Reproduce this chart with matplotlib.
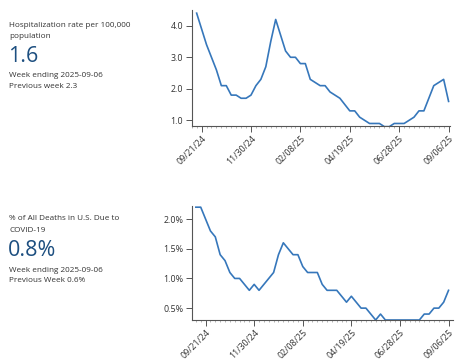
import pandas as pd
import matplotlib
matplotlib.use("Agg")
import matplotlib.pyplot as plt
import matplotlib.dates as mdates
from matplotlib.ticker import FuncFormatter

# weekly hospitalization rate per 100,000 (week ending 09/14/24 .. 09/06/25)
hosp_dates = pd.date_range("2024-09-14", "2025-09-06", freq="7D")
hosp_rate = [4.4, 3.9, 3.4, 3.0, 2.6, 2.1, 2.1, 1.8, 1.8, 1.7,
             1.7, 1.8, 2.1, 2.3, 2.7, 3.5, 4.2, 3.7, 3.2, 3.0,
             3.0, 2.8, 2.8, 2.3, 2.2, 2.1, 2.1, 1.9, 1.8, 1.7,
             1.5, 1.3, 1.3, 1.1, 1.0, 0.9, 0.9, 0.9, 0.8, 0.8,
             0.9, 0.9, 0.9, 1.0, 1.1, 1.3, 1.3, 1.7, 2.1, 2.2,
             2.3, 1.6]

# weekly % of all deaths due to COVID-19 (week ending 09/07/24 .. 09/06/25)
death_dates = pd.date_range("2024-09-07", "2025-09-06", freq="7D")
death_pct = [2.2, 2.2, 2.0, 1.8, 1.7, 1.4, 1.3, 1.1, 1.0, 1.0,
             0.9, 0.8, 0.9, 0.8, 0.9, 1.0, 1.1, 1.4, 1.6, 1.5,
             1.4, 1.4, 1.2, 1.1, 1.1, 1.1, 0.9, 0.8, 0.8, 0.8,
             0.7, 0.6, 0.7, 0.6, 0.5, 0.5, 0.4, 0.3, 0.4, 0.3,
             0.3, 0.3, 0.3, 0.3, 0.3, 0.3, 0.3, 0.4, 0.4, 0.5,
             0.5, 0.6, 0.8]

tick_dates = pd.to_datetime(["2024-09-21", "2024-11-30", "2025-02-08",
                             "2025-04-19", "2025-06-28", "2025-09-06"])

plt.rcParams["font.family"] = ["Open Sans", "DejaVu Sans"]

W, H = 466, 364
fig = plt.figure(figsize=(W / 100, H / 100), dpi=100)

line_color = "#3677bb"
text_color = "#333333"
big_color = "#1d4f80"
axis_color = "#555555"


def px_axes(left, top, right, bottom):
    return fig.add_axes([left / W, 1 - bottom / H, (right - left) / W, (bottom - top) / H])


def style(ax):
    for s in ["top", "right"]:
        ax.spines[s].set_visible(False)
    for s in ["left", "bottom"]:
        ax.spines[s].set_color(axis_color)
        ax.spines[s].set_linewidth(0.8)
    ax.set_xticks(tick_dates)
    ax.xaxis.set_major_formatter(mdates.DateFormatter("%m/%d/%y"))
    ax.xaxis.set_minor_locator(mdates.WeekdayLocator(byweekday=mdates.SA))
    ax.tick_params(axis="x", which="major", length=4, width=0.7, color=axis_color,
                   labelsize=6.4, labelcolor=text_color, pad=1.5)
    ax.tick_params(axis="x", which="minor", length=1.5, width=0.5, color="#999999")
    ax.tick_params(axis="y", length=4, width=0.7, color=axis_color,
                   labelsize=6.4, labelcolor=text_color, pad=2)
    for lab in ax.get_xticklabels():
        lab.set_rotation(45)
        lab.set_ha("right")
        lab.set_rotation_mode("anchor")


# top chart
ax1 = px_axes(191.7, 10, 450, 126)
ax1.plot(hosp_dates, hosp_rate, color=line_color, lw=1.2)
ax1.set_ylim(0.82, 4.5)
ax1.set_yticks([1.0, 2.0, 3.0, 4.0])
ax1.yaxis.set_major_formatter(FuncFormatter(lambda v, p: f"{v:.1f}"))
ax1.set_xlim(pd.Timestamp("2024-09-07"), pd.Timestamp("2025-09-08"))
style(ax1)

# bottom chart
ax2 = px_axes(191.7, 206, 452.7, 320)
ax2.plot(death_dates, death_pct, color=line_color, lw=1.2, clip_on=False)
ax2.set_ylim(0.3, 2.22)
ax2.set_yticks([0.5, 1.0, 1.5, 2.0])
ax2.yaxis.set_major_formatter(FuncFormatter(lambda v, p: f"{v:.1f}%"))
ax2.set_xlim(pd.Timestamp("2024-09-01"), pd.Timestamp("2025-09-12"))
style(ax2)


def ftext(x, y, s, **kw):
    fig.text(x / W, 1 - y / H, s, va="baseline", ha="left", **kw)


small = 5.9
big = 15.5

# left text panels
ftext(9, 27, "Hospitalization rate per 100,000", fontsize=small, color=text_color)
ftext(9, 37.5, "population", fontsize=small, color=text_color)
ftext(8, 62, "1.6", fontsize=big, color=big_color)
ftext(9, 77, "Week ending 2025-09-06", fontsize=small, color=text_color)
ftext(9, 88, "Previous week 2.3", fontsize=small, color=text_color)

ftext(9, 220, "% of All Deaths in U.S. Due to", fontsize=small, color=text_color)
ftext(9, 232.5, "COVID-19", fontsize=small, color=text_color)
ftext(8, 256, "0.8%", fontsize=big, color=big_color)
ftext(9, 272, "Week ending 2025-09-06", fontsize=small, color=text_color)
ftext(9, 282.5, "Previous Week 0.6%", fontsize=small, color=text_color)

fig.savefig("out.png", dpi=100)
